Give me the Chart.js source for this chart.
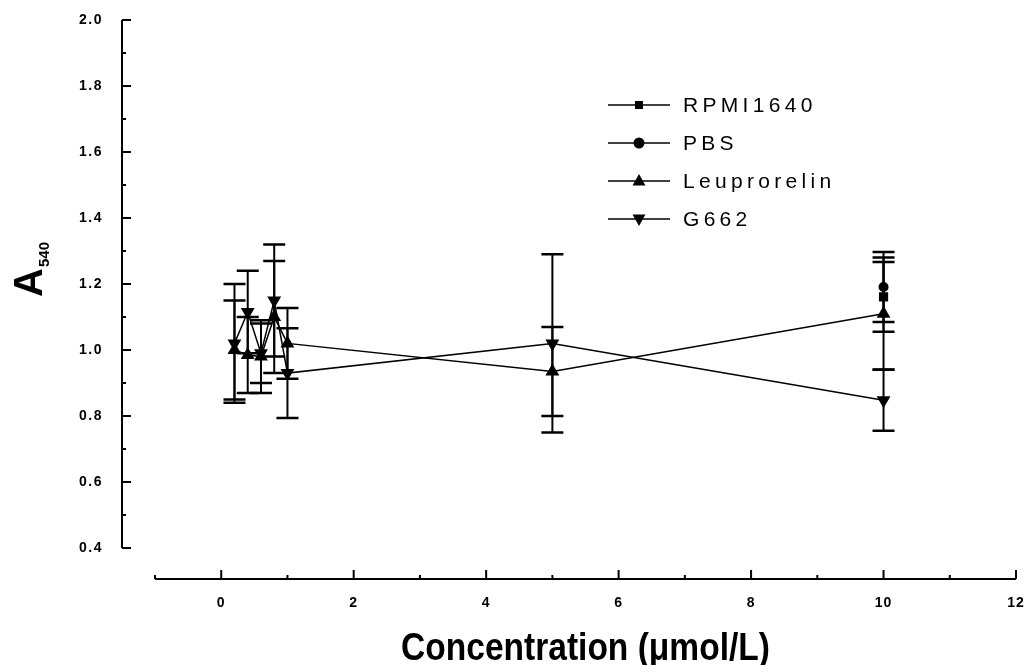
<!DOCTYPE html>
<html>
<head>
<meta charset="utf-8">
<script src="https://cdn.jsdelivr.net/npm/chart.js@4/dist/chart.umd.min.js"></script>
<style>
  html, body { margin: 0; padding: 0; background: #fff; }
  #wrap { width: 1024px; height: 665px; position: relative; }
</style>
</head>
<body>
<div id="wrap"><canvas id="c" width="1024" height="665"></canvas></div>
<script>
// ---- data ----
const concentrations = [0.2, 0.4, 0.6, 0.8, 1, 5, 10];
const leuprorelinValues = [1.00, 0.985, 0.98, 1.10, 1.02, 0.935, 1.11];
const leuprorelinErrors = [0.15, 0.115, 0.11, 0.17, 0.107, 0.135, 0.17];
const g662Values = [1.02, 1.115, 0.99, 1.15, 0.93, 1.02, 0.848];
const g662Errors = [0.18, 0.125, 0.09, 0.17, 0.136, 0.27, 0.093];
const rpmiConcentrations = [10];
const rpmiValues = [1.161];
const rpmiErrors = [0.106];
const pbsConcentrations = [10];
const pbsValues = [1.191];
const pbsErrors = [0.106];

const seriesNames = ['RPMI1640', 'PBS', 'Leuprorelin', 'G662'];
const xTickValues = [0, 2, 4, 6, 8, 10, 12];
const xMinorTickValues = [-1, 1, 3, 5, 7, 9, 11];
const yTickValues = [0.4, 0.6, 0.8, 1.0, 1.2, 1.4, 1.6, 1.8, 2.0];
const yMinorTickValues = [0.5, 0.7, 0.9, 1.1, 1.3, 1.5, 1.7, 1.9];
const xTitle = 'Concentration (\u03bcmol/L)';
const yTitleMain = 'A';
const yTitleSub = '540';

function pts(xs, ys) { return xs.map((x, i) => ({ x: x, y: ys[i] })); }

const datasets = [
  { label: seriesNames[0], data: pts(rpmiConcentrations, rpmiValues), errors: rpmiErrors,
    pointStyle: 'rect', pointRadius: 6.5, pointRotation: 0 },
  { label: seriesNames[1], data: pts(pbsConcentrations, pbsValues), errors: pbsErrors,
    pointStyle: 'circle', pointRadius: 5, pointRotation: 0 },
  { label: seriesNames[2], data: pts(concentrations, leuprorelinValues), errors: leuprorelinErrors,
    pointStyle: 'triangle', pointRadius: 8, pointRotation: 0 },
  { label: seriesNames[3], data: pts(concentrations, g662Values), errors: g662Errors,
    pointStyle: 'triangle', pointRadius: 8, pointRotation: 180 }
].map(d => Object.assign({
  showLine: true, borderColor: '#000', backgroundColor: '#000', borderWidth: 1.5,
  pointBorderWidth: 0, pointBackgroundColor: '#000', pointBorderColor: '#000', tension: 0
}, d));

// error bars drawn through the chart's own scales
const errorBarPlugin = {
  id: 'errorBars',
  beforeDatasetsDraw(chart) {
    const { ctx, scales: { x, y } } = chart;
    ctx.save();
    ctx.strokeStyle = '#000';
    chart.data.datasets.forEach(ds => {
      ds.data.forEach((p, i) => {
        const e = ds.errors[i];
        const px = x.getPixelForValue(p.x);
        const top = y.getPixelForValue(p.y + e);
        const bot = y.getPixelForValue(p.y - e);
        ctx.lineWidth = 2;
        ctx.beginPath(); ctx.moveTo(px, top); ctx.lineTo(px, bot); ctx.stroke();
        ctx.lineWidth = 2.5;
        ctx.beginPath();
        ctx.moveTo(px - 11, top); ctx.lineTo(px + 11, top);
        ctx.moveTo(px - 11, bot); ctx.lineTo(px + 11, bot);
        ctx.stroke();
      });
    });
    ctx.restore();
  }
};

function drawMarker(ctx, style, cx, cy) {
  ctx.beginPath();
  if (style === 'square') {
    ctx.rect(cx - 4, cy - 4, 8, 8);
  } else if (style === 'circle') {
    ctx.arc(cx, cy, 5.5, 0, Math.PI * 2);
  } else if (style === 'up') {
    ctx.moveTo(cx, cy - 7); ctx.lineTo(cx + 6.5, cy + 4.5); ctx.lineTo(cx - 6.5, cy + 4.5); ctx.closePath();
  } else {
    ctx.moveTo(cx, cy + 7); ctx.lineTo(cx + 6.5, cy - 4.5); ctx.lineTo(cx - 6.5, cy - 4.5); ctx.closePath();
  }
  ctx.fill();
}

// offset axes, ticks, labels, titles and legend
const decorPlugin = {
  id: 'decor',
  afterDraw(chart) {
    const { ctx, chartArea, scales: { x, y } } = chart;
    ctx.save();
    ctx.strokeStyle = '#000';
    ctx.fillStyle = '#000';
    ctx.lineWidth = 2;

    // Y axis (offset to the left of the plot)
    const ax = chartArea.left - 33;
    const yTop = y.getPixelForValue(y.max), yBot = y.getPixelForValue(y.min);
    ctx.beginPath(); ctx.moveTo(ax, yBot); ctx.lineTo(ax, yTop); ctx.stroke();
    ctx.beginPath();
    yTickValues.forEach(v => { const py = y.getPixelForValue(v); ctx.moveTo(ax, py); ctx.lineTo(ax + 9, py); });
    yMinorTickValues.forEach(v => { const py = y.getPixelForValue(v); ctx.moveTo(ax, py); ctx.lineTo(ax + 4, py); });
    ctx.stroke();
    ctx.font = 'bold 14px "Liberation Sans", Arial, sans-serif';
    ctx.letterSpacing = '1.5px';
    ctx.textAlign = 'right'; ctx.textBaseline = 'middle';
    yTickValues.forEach(v => ctx.fillText(v.toFixed(1), ax - 19, y.getPixelForValue(v)));

    // X axis (offset below the plot)
    const ay = chartArea.bottom + 31;
    const xl = x.getPixelForValue(x.min), xr = x.getPixelForValue(x.max);
    ctx.beginPath(); ctx.moveTo(xl, ay); ctx.lineTo(xr, ay); ctx.stroke();
    ctx.beginPath();
    xTickValues.forEach(v => { const px = x.getPixelForValue(v); ctx.moveTo(px, ay); ctx.lineTo(px, ay - 9); });
    xMinorTickValues.forEach(v => { const px = x.getPixelForValue(v); ctx.moveTo(px, ay); ctx.lineTo(px, ay - 4); });
    ctx.stroke();
    ctx.letterSpacing = '1px';
    ctx.textAlign = 'center'; ctx.textBaseline = 'middle';
    xTickValues.forEach(v => ctx.fillText(String(v), x.getPixelForValue(v), ay + 24));

    // X title (condensed bold)
    ctx.letterSpacing = '0px';
    ctx.save();
    ctx.translate((xl + xr) / 2, 660);
    ctx.scale(0.86, 1);
    ctx.font = 'bold 39px "Liberation Sans", Arial, sans-serif';
    ctx.textAlign = 'center'; ctx.textBaseline = 'alphabetic';
    ctx.fillText(xTitle, 0, 0);
    ctx.restore();

    // Y title (rotated, with subscript)
    ctx.save();
    ctx.translate(42, 297);
    ctx.rotate(-Math.PI / 2);
    ctx.textAlign = 'left'; ctx.textBaseline = 'alphabetic';
    ctx.font = 'bold 40px "Liberation Sans", Arial, sans-serif';
    ctx.fillText(yTitleMain, 0, 0);
    ctx.font = 'bold 15px "Liberation Sans", Arial, sans-serif';
    ctx.fillText(yTitleSub, 30, 7);
    ctx.restore();

    // Legend
    const styles = ['square', 'circle', 'up', 'down'];
    const rowY = [105, 143, 181, 219];
    ctx.font = '21px "Liberation Sans", Arial, sans-serif';
    ctx.letterSpacing = '4.3px';
    ctx.textAlign = 'left'; ctx.textBaseline = 'middle';
    seriesNames.forEach((name, i) => {
      const ry = rowY[i];
      ctx.lineWidth = 1.5;
      ctx.beginPath(); ctx.moveTo(608, ry); ctx.lineTo(670, ry); ctx.stroke();
      drawMarker(ctx, styles[i], 639, ry);
      ctx.fillText(name, 683, ry + 1);
    });
    ctx.restore();
  }
};

new Chart(document.getElementById('c'), {
  type: 'scatter',
  data: { datasets: datasets },
  options: {
    responsive: false,
    animation: false,
    events: [],
    layout: { padding: { left: 155, right: 7, top: 20, bottom: 117 } },
    plugins: { legend: { display: false }, tooltip: { enabled: false } },
    scales: {
      x: { type: 'linear', min: -1, max: 12, display: false },
      y: { type: 'linear', min: 0.4, max: 2.0, display: false }
    }
  },
  plugins: [errorBarPlugin, decorPlugin]
});
</script>
</body>
</html>
